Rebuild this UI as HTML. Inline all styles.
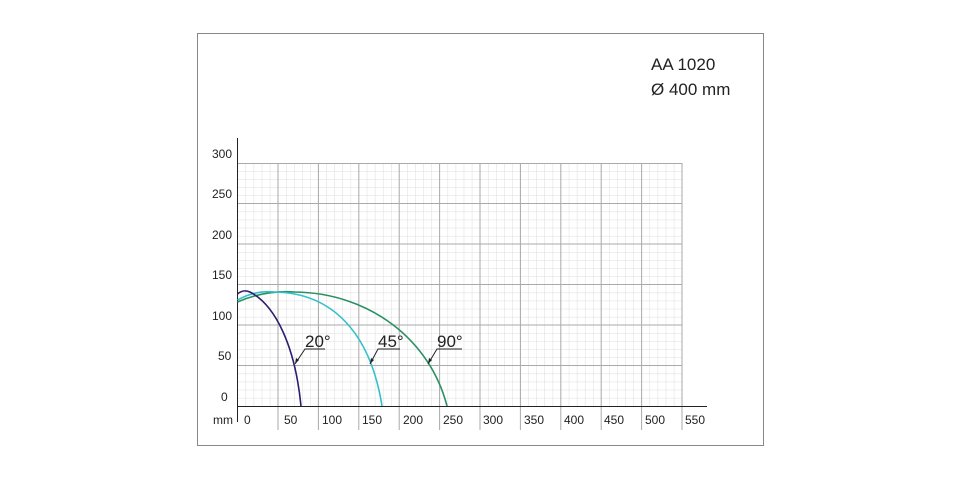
<!DOCTYPE html>
<html><head><meta charset="utf-8"><style>body{margin:0;background:#fff}svg{display:block}</style></head>
<body>
<svg width="960" height="480" viewBox="0 0 960 480" xmlns="http://www.w3.org/2000/svg" font-family="Liberation Sans, sans-serif">
<defs>
<pattern id="minor" x="237.5" y="163" width="8.08" height="8.1" patternUnits="userSpaceOnUse">
<path d="M0,0 V8.1 M0,0 H8.08" stroke="#dcdcdc" stroke-width="1" fill="none"/>
</pattern>
</defs>
<rect x="197.5" y="33.5" width="566" height="412" fill="#fff" stroke="#888" stroke-width="1"/>
<rect x="237.5" y="163" width="444.5" height="243" fill="url(#minor)"/>
<g stroke="#aaa" stroke-width="1">
<path d="M278,163V430M318.4,163V430M358.8,163V430M399.2,163V430M439.6,163V430M480,163V430M520.4,163V430M560.8,163V430M601.2,163V430M641.6,163V430M682,163V430"/>
<path d="M237.5,163.5H682M237.5,203.5H682M237.5,244H682M237.5,284.5H682M237.5,325H682M237.5,365.5H682"/>
</g>
<g stroke="#222" stroke-width="1">
<path d="M237.5,138V422"/>
<path d="M237.5,406.5H707"/>
</g>
<g font-size="12" fill="#222">
<text x="212" y="158">300</text><text x="212" y="198">250</text><text x="212" y="239">200</text>
<text x="212" y="279">150</text><text x="212" y="320">100</text><text x="218" y="360">50</text><text x="221" y="401">0</text>
<text x="213" y="424">mm</text>
<text x="244" y="424">0</text><text x="284" y="424">50</text><text x="322" y="424">100</text><text x="362" y="424">150</text>
<text x="403" y="424">200</text><text x="443" y="424">250</text><text x="483" y="424">300</text><text x="524" y="424">350</text>
<text x="564" y="424">400</text><text x="604" y="424">450</text><text x="645" y="424">500</text><text x="685" y="424">550</text>
</g>
<g fill="none" stroke-width="1.6">
<path d="M237.5,302 Q265,290 295,292 C370,293 430,340 447,406" stroke="#2a9062"/>
<path d="M237.5,300 Q255,290 275,292 C330,293 370,330 382,406" stroke="#33c0cc"/>
<path d="M237.5,294 Q243,289 250,292 C275,305 295,345 301,406" stroke="#2b1f70"/>
</g>
<g stroke="#222" stroke-width="1" fill="none">
<path d="M325,349H305L295,364"/><path d="M400,349H378L370,364"/><path d="M462,349H437L428,364"/>
</g>
<g fill="#222">
<path d="M295,364l1,-6 3,2z"/><path d="M370,364l1,-6 3,2z"/><path d="M428,364l1,-6 3,2z"/>
</g>
<g font-size="17" fill="#222">
<text x="305" y="347">20°</text><text x="378" y="347">45°</text><text x="437" y="347">90°</text>
<text x="651" y="70">AA 1020</text><text x="651" y="95">Ø 400 mm</text>
</g>
</svg>
</body></html>
